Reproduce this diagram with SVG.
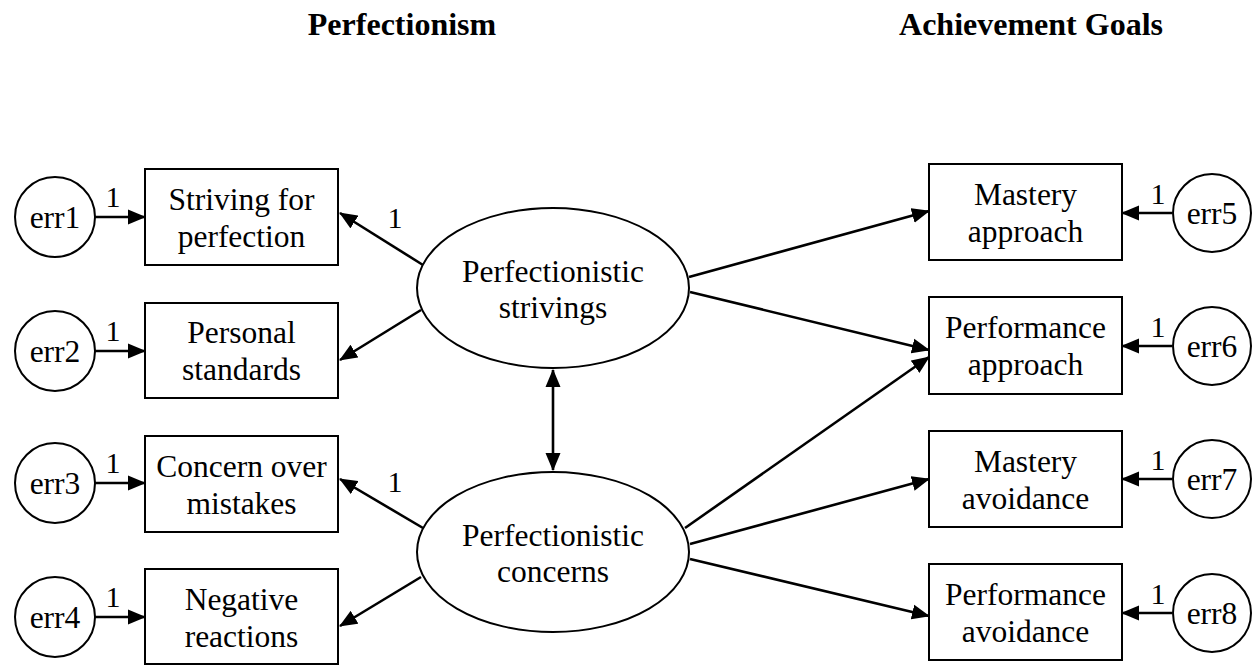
<svg xmlns="http://www.w3.org/2000/svg" width="1252" height="666" viewBox="0 0 1252 666">
<defs>
<marker id="ah" markerUnits="userSpaceOnUse" markerWidth="18" markerHeight="16" viewBox="0 0 18 16" refX="17" refY="8" orient="auto-start-reverse">
<path d="M0,0.5 L18,8 L0,15.5 Z" fill="#000"/>
</marker>
</defs>
<style>
text{font-family:"Liberation Serif","Times New Roman",serif;font-size:31.5px;fill:#000;text-anchor:middle}
.t{font-weight:bold;font-size:32px}
.n{fill:#fff;stroke:#000;stroke-width:2}
.c{stroke:#000;stroke-width:2.6;fill:none;marker-end:url(#ah)}
.w{font-size:30px}
</style>
<rect width="1252" height="666" fill="#fff"/>
<text class="t" x="402" y="35">Perfectionism</text>
<text class="t" x="1031" y="35">Achievement Goals</text>
<g id="connectors">
<path class="c" d="M95,217 L145,217"/>
<path class="c" d="M95,351 L145,351"/>
<path class="c" d="M95,483 L145,483"/>
<path class="c" d="M95,617 L145,617"/>
<path class="c" d="M1172,213 L1122,213"/>
<path class="c" d="M1172,346 L1122,346"/>
<path class="c" d="M1172,479 L1122,479"/>
<path class="c" d="M1172,613 L1122,613"/>
<path class="c" d="M423,265 L340,213"/>
<path class="c" d="M421,310 L340,360"/>
<path class="c" d="M423,528 L340,479"/>
<path class="c" d="M421,577 L340,626"/>
<path class="c" d="M689,277 L929,211"/>
<path class="c" d="M690,292 L929,350"/>
<path class="c" d="M685,528 L929,357"/>
<path class="c" d="M690,544 L929,479"/>
<path class="c" d="M690,559 L929,616"/>
<path class="c" d="M553,370 L553,470" style="marker-start:url(#ah)"/>
<text x="113" y="207" class="w">1</text>
<text x="113" y="341" class="w">1</text>
<text x="113" y="473" class="w">1</text>
<text x="113" y="607" class="w">1</text>
<text x="1158" y="204" class="w">1</text>
<text x="1158" y="337" class="w">1</text>
<text x="1158" y="470" class="w">1</text>
<text x="1158" y="604" class="w">1</text>
<text x="395" y="228" class="w">1</text>
<text x="395" y="492" class="w">1</text>
</g>
<g id="err1"><circle class="n" cx="55" cy="217" r="40"/><text x="55" y="228">err1</text></g>
<g id="err2"><circle class="n" cx="55" cy="351" r="40"/><text x="55" y="362">err2</text></g>
<g id="err3"><circle class="n" cx="55" cy="483" r="40"/><text x="55" y="494">err3</text></g>
<g id="err4"><circle class="n" cx="55" cy="617" r="40"/><text x="55" y="628">err4</text></g>
<g id="err5"><circle class="n" cx="1212" cy="213" r="39"/><text x="1212" y="224">err5</text></g>
<g id="err6"><circle class="n" cx="1212" cy="346" r="39"/><text x="1212" y="357">err6</text></g>
<g id="err7"><circle class="n" cx="1212" cy="479" r="39"/><text x="1212" y="490">err7</text></g>
<g id="err8"><circle class="n" cx="1212" cy="613" r="39"/><text x="1212" y="624">err8</text></g>
<g id="striving"><rect class="n" x="145" y="169" width="193" height="96"/><text x="241.5" y="210">Striving for</text><text x="241.5" y="247">perfection</text></g>
<g id="personal"><rect class="n" x="145" y="303" width="193" height="95"/><text x="241.5" y="343">Personal</text><text x="241.5" y="380">standards</text></g>
<g id="concern"><rect class="n" x="145" y="436" width="193" height="96"/><text x="241.5" y="477">Concern over</text><text x="241.5" y="514">mistakes</text></g>
<g id="negative"><rect class="n" x="145" y="569" width="193" height="95"/><text x="241.5" y="610">Negative</text><text x="241.5" y="647">reactions</text></g>
<g id="strivings"><ellipse class="n" cx="553" cy="288" rx="136" ry="80"/><text x="553" y="282">Perfectionistic</text><text x="553" y="318">strivings</text></g>
<g id="concerns"><ellipse class="n" cx="553" cy="552" rx="136" ry="80"/><text x="553" y="546">Perfectionistic</text><text x="553" y="582">concerns</text></g>
<g id="mastery_approach"><rect class="n" x="929" y="164" width="193" height="96"/><text x="1025.5" y="205">Mastery</text><text x="1025.5" y="242">approach</text></g>
<g id="performance_approach"><rect class="n" x="929" y="297" width="193" height="97"/><text x="1025.5" y="338">Performance</text><text x="1025.5" y="375">approach</text></g>
<g id="mastery_avoidance"><rect class="n" x="929" y="431" width="193" height="96"/><text x="1025.5" y="472">Mastery</text><text x="1025.5" y="509">avoidance</text></g>
<g id="performance_avoidance"><rect class="n" x="929" y="564" width="193" height="96"/><text x="1025.5" y="605">Performance</text><text x="1025.5" y="642">avoidance</text></g>
</svg>
